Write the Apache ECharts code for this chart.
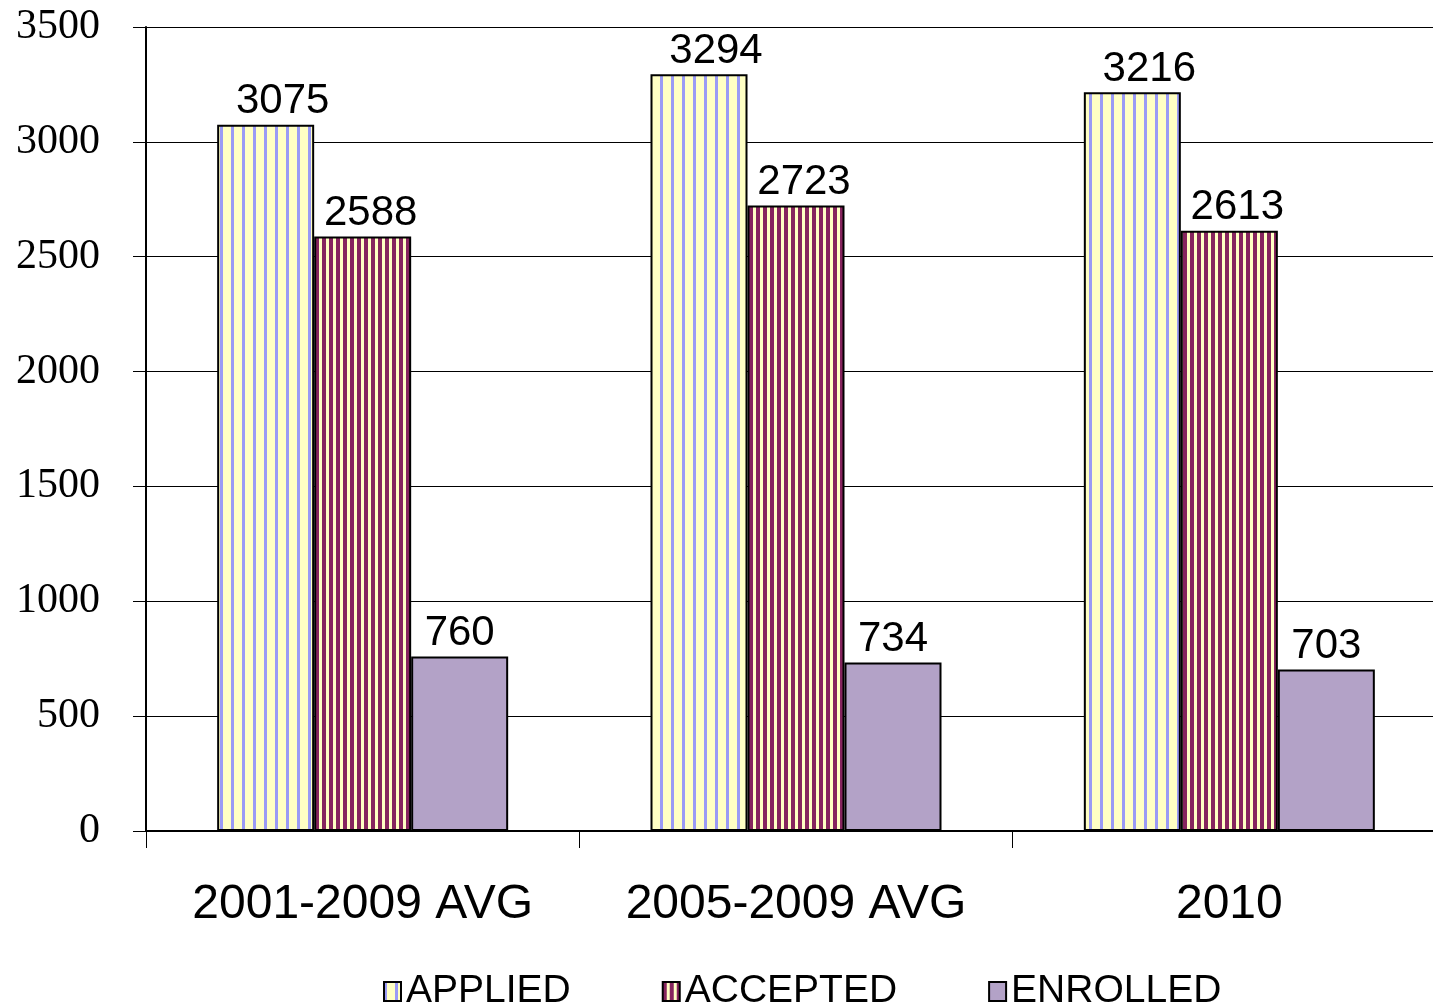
<!DOCTYPE html>
<html>
<head>
<meta charset="utf-8">
<script src="https://cdn.jsdelivr.net/npm/echarts@6/dist/echarts.min.js"></script>
<style>
  html, body { margin: 0; padding: 0; background: #fff; }
  #main_chart { width: 1433px; height: 1008px; }
</style>
</head>
<body>
<div id="main_chart"></div>
<script>
var categories = ['2001-2009 AVG', '2005-2009 AVG', '2010'];
var applied = [3075, 3294, 3216];
var accepted = [2588, 2723, 2613];
var enrolled = [760, 734, 703];
var seriesNames = ['APPLIED', 'ACCEPTED', 'ENROLLED'];

// vertical stripe pattern
function stripes(w, bg, fg, fgw) {
    var c = document.createElement('canvas');
    c.width = w;
    c.height = 4;
    var ctx = c.getContext('2d');
    ctx.fillStyle = bg;
    ctx.fillRect(0, 0, w, 4);
    ctx.fillStyle = fg;
    ctx.fillRect(0, 0, fgw, 4);
    return { image: c, repeat: 'repeat' };
}

var appliedFill = stripes(11, '#FFFFC4', '#9A9AF5', 3);
var acceptedFill = stripes(7, '#FFFFC4', '#86245E', 4);

var chart = echarts.init(document.getElementById('main_chart'));

function labelStyle(dx) {
    return {
        show: true,
        position: 'top',
        distance: 2,
        offset: [dx, 0],
        color: '#000',
        fontFamily: 'Liberation Sans',
        fontSize: 42
    };
}

chart.setOption({
    animation: false,
    grid: { left: 146, width: 1300, top: 27, bottom: 177, outerBoundsMode: 'none', containLabel: false },
    legend: {
        top: 967,
        left: 378,
        itemGap: 91,
        itemWidth: 17,
        itemHeight: 19,
        icon: 'rect',
        textStyle: { fontFamily: 'Liberation Sans', fontSize: 39, color: '#000' },
        data: seriesNames
    },
    xAxis: {
        type: 'category',
        data: categories,
        axisLine: { lineStyle: { color: '#000', width: 2 } },
        axisTick: { show: true, interval: 0, length: 17, lineStyle: { color: '#000', width: 1 } },
        axisLabel: {
            color: '#000', fontFamily: 'Liberation Sans', fontSize: 48, margin: 50,
            interval: 0, hideOverlap: false
        }
    },
    yAxis: {
        type: 'value',
        min: 0,
        max: 3500,
        interval: 500,
        axisLine: { show: true, lineStyle: { color: '#000', width: 2 } },
        axisTick: { show: true, length: 13, lineStyle: { color: '#000', width: 1 } },
        splitLine: { lineStyle: { color: '#000', width: 1 } },
        axisLabel: {
            color: '#000', fontFamily: 'Liberation Serif', fontSize: 42, margin: 46,
            formatter: function (v) { return String(v); }
        }
    },
    series: [{
        name: seriesNames[0],
        type: 'bar',
        data: applied,
        barWidth: 97,
        barGap: '0%',
        itemStyle: { color: appliedFill, borderColor: '#000', borderWidth: 2 },
        label: labelStyle(17)
    }, {
        name: seriesNames[1],
        type: 'bar',
        data: accepted,
        barWidth: 97,
        barGap: '0%',
        itemStyle: { color: acceptedFill, borderColor: '#000', borderWidth: 2 },
        label: labelStyle(8)
    }, {
        name: seriesNames[2],
        type: 'bar',
        data: enrolled,
        barWidth: 97,
        barGap: '0%',
        itemStyle: { color: '#B3A2C7', borderColor: '#000', borderWidth: 2 },
        label: labelStyle(0)
    }]
});
</script>
</body>
</html>
